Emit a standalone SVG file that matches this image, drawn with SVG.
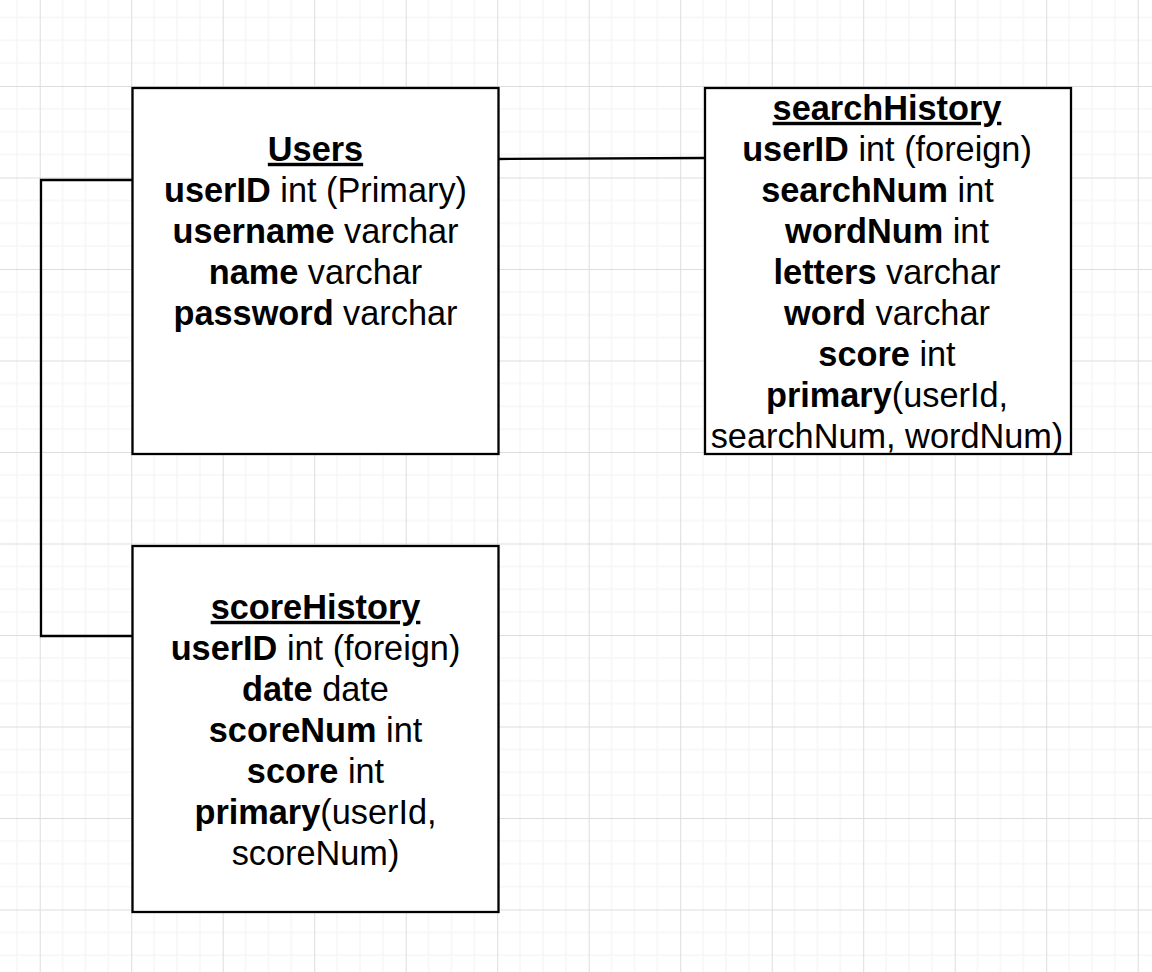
<svg xmlns="http://www.w3.org/2000/svg" width="1152" height="972" viewBox="0 0 1152 972">
<style>
.box{fill:#ffffff;stroke:#000000;stroke-width:2.3}
.edge{fill:none;stroke:#000000;stroke-width:2.3}
text{font-family:"Liberation Sans",Arial,sans-serif;font-size:34.3px;fill:#000000;text-anchor:middle}
.b{font-weight:bold}
.t{font-weight:bold;text-decoration:underline}
</style>
<defs>
<pattern id="grid" patternUnits="userSpaceOnUse" x="39.7" y="86" width="91.5" height="91.5">
<g stroke="#f2f2f2" stroke-width="1">
<line x1="22.875" y1="0" x2="22.875" y2="91.5"/>
<line x1="45.75" y1="0" x2="45.75" y2="91.5"/>
<line x1="68.625" y1="0" x2="68.625" y2="91.5"/>
<line x1="0" y1="22.875" x2="91.5" y2="22.875"/>
<line x1="0" y1="45.75" x2="91.5" y2="45.75"/>
<line x1="0" y1="68.625" x2="91.5" y2="68.625"/>
</g>
<g stroke="#dddddd" stroke-width="1">
<line x1="0.5" y1="0" x2="0.5" y2="91.5"/>
<line x1="0" y1="0.5" x2="91.5" y2="0.5"/>
</g>
</pattern>
</defs>
<rect x="0" y="0" width="1152" height="972" fill="#ffffff"/>
<rect x="0" y="0" width="1152" height="972" fill="url(#grid)"/>
<g id="connectors">
<path class="edge" d="M498,159 L705,158"/>
<path class="edge" d="M132,180 L41,180 L41,636 L132,636"/>
</g>
<g id="users">
<rect class="box" x="132.5" y="88" width="366" height="366"/>
<text x="315.5" y="160.8" class="t">Users</text>
<text x="315.5" y="201.8"><tspan class="b">userID</tspan> int (Primary)</text>
<text x="315.5" y="242.8"><tspan class="b">username</tspan> varchar</text>
<text x="315.5" y="283.8"><tspan class="b">name</tspan> varchar</text>
<text x="315.5" y="324.8"><tspan class="b">password</tspan> varchar</text>
</g>
<g id="searchHistory">
<rect class="box" x="705" y="88" width="366" height="366"/>
<text x="887" y="119.8" class="t">searchHistory</text>
<text x="887" y="160.8"><tspan class="b">userID</tspan> int (foreign)</text>
<text x="877.5" y="201.8"><tspan class="b">searchNum</tspan> int</text>
<text x="887" y="242.8"><tspan class="b">wordNum</tspan> int</text>
<text x="887" y="283.8"><tspan class="b">letters</tspan> varchar</text>
<text x="887" y="324.8"><tspan class="b">word</tspan> varchar</text>
<text x="887" y="365.8"><tspan class="b">score</tspan> int</text>
<text x="887" y="406.8"><tspan class="b">primary</tspan>(userId,</text>
<text x="887" y="447.8">searchNum, wordNum)</text>
</g>
<g id="scoreHistory">
<rect class="box" x="132.5" y="546" width="366" height="366"/>
<text x="315.5" y="618.8" class="t">scoreHistory</text>
<text x="315.5" y="659.8"><tspan class="b">userID</tspan> int (foreign)</text>
<text x="315.5" y="700.8"><tspan class="b">date</tspan> date</text>
<text x="315.5" y="741.8"><tspan class="b">scoreNum</tspan> int</text>
<text x="315.5" y="782.8"><tspan class="b">score</tspan> int</text>
<text x="315.5" y="823.8"><tspan class="b">primary</tspan>(userId,</text>
<text x="315.5" y="864.8">scoreNum)</text>
</g>
</svg>
